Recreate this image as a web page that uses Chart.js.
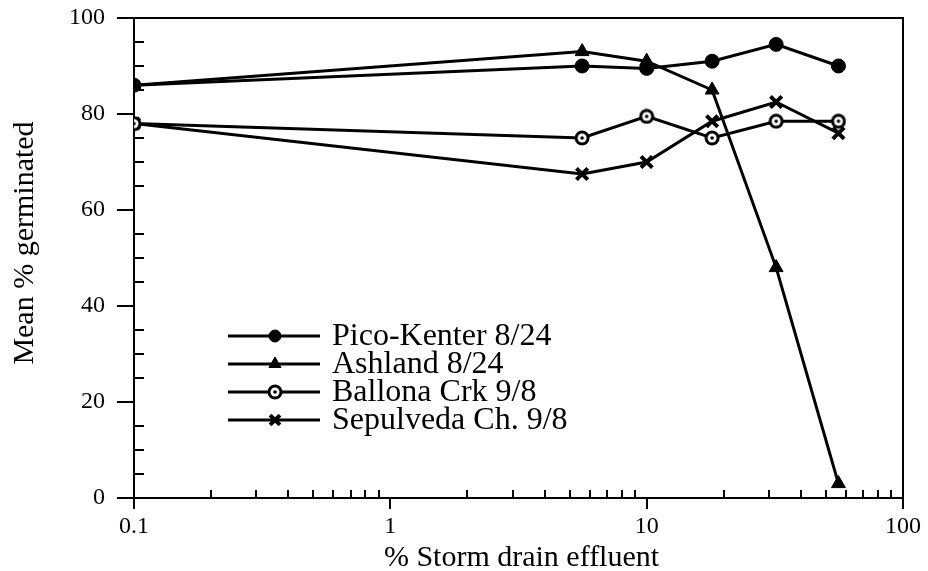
<!DOCTYPE html>
<html>
<head>
<meta charset="utf-8">
<script src="https://cdn.jsdelivr.net/npm/chart.js@4/dist/chart.umd.min.js"></script>
<style>
  html, body { margin: 0; padding: 0; background: #fff; }
  #wrap { width: 928px; height: 571px; position: relative; }
</style>
</head>
<body>
<div id="wrap"><canvas id="chart"></canvas></div>
<script>
// % storm drain effluent (log axis)
const concentrations = [0.1, 5.6, 10, 18, 32, 56]
const picoKenter = [86, 90, 89.5, 91, 94.5, 90]
const ashland = [86, 93, 91, 85, 48, 3]
const ballona = [78, 75, 79.5, 75, 78.5, 78.5]
const sepulveda = [78, 67.5, 70, 78.5, 82.5, 76]
const seriesNames = ['Pico-Kenter 8/24', 'Ashland 8/24', 'Ballona Crk 9/8', 'Sepulveda Ch. 9/8']
const xTicks = [0.1, 1, 10, 100]
const yTicks = [0, 20, 40, 60, 80, 100]

const serif = '"Liberation Serif", "DejaVu Serif", serif'

// bullseye marker for Ballona
const ring = document.createElement('canvas')
ring.width = 16
ring.height = 16
const rc = ring.getContext('2d')
rc.fillStyle = '#000'
rc.beginPath(); rc.arc(8, 8, 7.5, 0, Math.PI * 2); rc.fill()
rc.fillStyle = '#fff'
rc.beginPath(); rc.arc(8, 8, 4.5, 0, Math.PI * 2); rc.fill()
rc.fillStyle = '#000'
rc.beginPath(); rc.arc(8, 8, 1.8, 0, Math.PI * 2); rc.fill()

function toPoints(values) {
    return concentrations.map(function(c, i) { return {x: c, y: values[i]} })
}

function series(label, values, style, radius, extra) {
    return Object.assign({
        label: label,
        data: toPoints(values),
        showLine: true,
        borderColor: '#000',
        backgroundColor: '#000',
        borderWidth: 3,
        pointStyle: style,
        pointRadius: radius,
        pointHoverRadius: radius,
        pointBorderColor: '#000',
        pointBackgroundColor: '#000',
        pointBorderWidth: 1
    }, extra || {})
}

const frame = {
    id: 'frame',
    afterDraw(chart) {
        const c = chart.ctx
        const xs = chart.scales.x
        const ys = chart.scales.y
        const a = chart.chartArea
        c.save()
        c.strokeStyle = '#000'
        c.lineWidth = 2
        // top and right border
        c.beginPath()
        c.moveTo(a.left - 17, a.top)
        c.lineTo(a.right, a.top)
        c.lineTo(a.right, a.bottom)
        c.stroke()
        // y minor ticks, inward
        c.beginPath()
        for (let v = 5; v < 100; v += 5) {
            if (v % 20 === 0) continue
            const py = Math.round(ys.getPixelForValue(v))
            c.moveTo(a.left, py)
            c.lineTo(a.left + 10, py)
        }
        // x minor ticks, inward
        for (let d = 0.1; d < 100; d *= 10) {
            for (let k = 2; k <= 9; k++) {
                const px = Math.round(xs.getPixelForValue(k * d))
                c.moveTo(px, a.bottom)
                c.lineTo(px, a.bottom - 8)
            }
        }
        c.stroke()

        // axis titles
        c.fillStyle = '#000'
        c.font = '30px ' + serif
        c.textAlign = 'center'
        c.textBaseline = 'middle'
        c.fillText('% Storm drain effluent', (a.left + a.right) / 2 + 3, 558)
        c.save()
        c.translate(25, 243)
        c.rotate(-Math.PI / 2)
        c.fillText('Mean % germinated', 0, 0)
        c.restore()

        // legend
        const rows = [336, 364, 392, 420]
        c.font = '32px ' + serif
        c.textAlign = 'left'
        chart.data.datasets.forEach(function(ds, i) {
            const y = rows[i]
            c.lineWidth = 3
            c.strokeStyle = '#000'
            c.beginPath()
            c.moveTo(228, y)
            c.lineTo(320, y)
            c.stroke()
            c.fillStyle = '#000'
            c.lineWidth = ds.pointBorderWidth
            if (Chart.helpers && Chart.helpers.drawPoint) {
                Chart.helpers.drawPoint(c, {
                    pointStyle: ds.pointStyle,
                    radius: ds.pointRadius - 1,
                    rotation: 0,
                    borderWidth: ds.pointBorderWidth
                }, 275, y)
            }
            c.fillStyle = '#000'
            c.fillText(seriesNames[i], 332, y + 1)
        })
        c.restore()
    }
}

new Chart(document.getElementById('chart'), {
    type: 'scatter',
    data: {
        datasets: [
            series(seriesNames[0], picoKenter, 'circle', 7),
            series(seriesNames[1], ashland, 'triangle', 8),
            series(seriesNames[2], ballona, ring, 8),
            series(seriesNames[3], sepulveda, 'crossRot', 8, {pointBorderWidth: 4})
        ]
    },
    plugins: [frame],
    options: {
        responsive: true,
        maintainAspectRatio: false,
        animation: false,
        events: [],
        layout: { padding: { left: 0, right: 25, top: 18, bottom: 0 } },
        plugins: {
            legend: { display: false },
            tooltip: { enabled: false }
        },
        scales: {
            x: {
                type: 'logarithmic',
                min: 0.1,
                max: 100,
                afterBuildTicks(scale) {
                    scale.ticks = xTicks.map(function(v) { return {value: v, major: true} })
                },
                afterFit(scale) {
                    scale.height = 73
                    scale.paddingLeft = 0
                    scale.paddingRight = 0
                },
                border: { display: true, color: '#000', width: 2 },
                grid: { drawOnChartArea: false, drawTicks: true, tickLength: 11, color: '#000', lineWidth: 2 },
                ticks: {
                    color: '#000',
                    padding: 3,
                    maxRotation: 0,
                    autoSkip: false,
                    font: { family: serif, size: 24 },
                    callback: function(v) { return String(v) }
                }
            },
            y: {
                type: 'linear',
                min: 0,
                max: 100,
                afterBuildTicks(scale) {
                    scale.ticks = yTicks.map(function(v) { return {value: v} })
                },
                afterFit(scale) {
                    scale.width = 134
                    scale.paddingTop = 0
                    scale.paddingBottom = 0
                },
                border: { display: true, color: '#000', width: 2 },
                grid: { drawOnChartArea: false, drawTicks: true, tickLength: 17, color: '#000', lineWidth: 2 },
                ticks: {
                    color: '#000',
                    padding: 12,
                    font: { family: serif, size: 24 }
                }
            }
        }
    }
})
</script>
</body>
</html>
